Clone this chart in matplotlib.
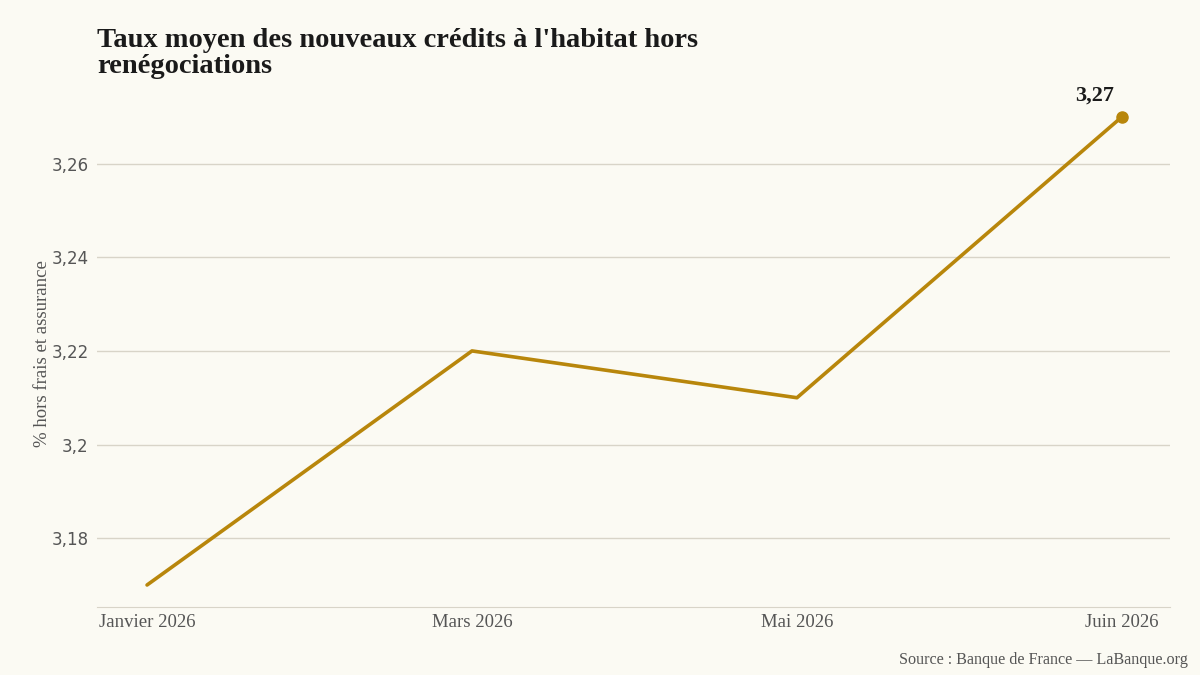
import matplotlib.pyplot as plt
from matplotlib.ticker import FuncFormatter

mois = ["Janvier 2026", "Mars 2026", "Mai 2026", "Juin 2026"]
taux = [3.17, 3.22, 3.21, 3.27]
yticks = [3.18, 3.20, 3.22, 3.24, 3.26]

bg = "#fbfaf3"
gold = "#b8860b"
grid = "#d8d4c8"
grey = "#555555"
serif = ["Liberation Serif", "DejaVu Serif"]

fig = plt.figure(figsize=(12, 6.75), dpi=100, facecolor=bg)
ax = fig.add_axes([97/1200, 1 - 607/675, (1170 - 97)/1200, 507/675])
ax.set_facecolor(bg)

x = list(range(len(mois)))
ax.plot(x, taux, color=gold, lw=2.6, solid_capstyle="round", zorder=3)
ax.plot(x[-1], taux[-1], "o", color=gold, ms=8, zorder=4)
ax.annotate(f"{taux[-1]:.2f}".replace(".", ","), (x[-1], taux[-1]),
            xytext=(-20, 15), textcoords="offset points", ha="center", va="center",
            fontsize=16, fontweight="bold", family=serif, color="#1a1a1a")

ax.set_xlim(-0.154, 3.148)
ax.set_ylim(3.1653, 3.2736)
ax.set_yticks(yticks)
ax.yaxis.set_major_formatter(FuncFormatter(lambda v, p: f"{v:g}".replace(".", ",")))
ax.set_xticks(x)
ax.set_xticklabels(mois, family=serif, fontsize=13.5, color=grey)
ax.tick_params(axis="y", labelsize=12, colors=grey, length=0, pad=6)
ax.tick_params(axis="x", length=0, pad=5)
ax.grid(axis="y", color=grid, lw=1)
for s in ["top", "right", "left"]:
    ax.spines[s].set_visible(False)
ax.spines["bottom"].set_color(grid)
ax.set_ylabel("% hors frais et assurance", family=serif, fontsize=13.5, color=grey, labelpad=0)

fig.text(97/1200, 1 - 28/675, "Taux moyen des nouveaux crédits à l'habitat hors\nrenégociations",
         family=serif, fontsize=20.5, fontweight="bold", color="#1a1a1a", va="top", ha="left",
         linespacing=1.05)
fig.text(1188/1200, 1 - 660/675, "Source : Banque de France — LaBanque.org",
         family=serif, fontsize=11.6, color=grey, ha="right", va="center")

fig.savefig("out.png", dpi=100, facecolor=bg)
